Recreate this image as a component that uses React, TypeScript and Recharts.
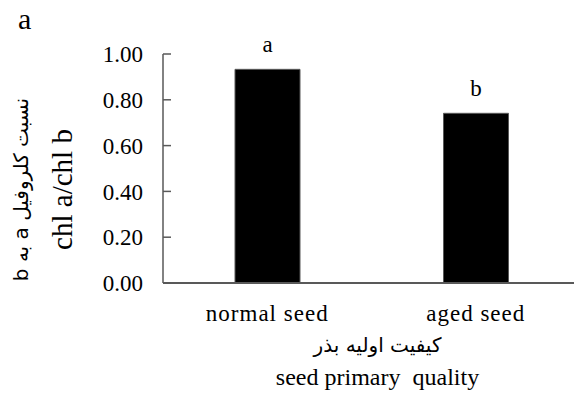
import React from 'react';
import { BarChart, Bar, XAxis, YAxis, LabelList, Label } from 'recharts';

const categories = ['normal seed', 'aged seed'];
const ratioValues = [0.933, 0.741];
const groupLetters = ['a', 'b'];
const yTicks = [0, 0.2, 0.4, 0.6, 0.8, 1.0];
const panelLetter = 'a';
const yTitleFa = 'نسبت کلروفیل a به b';
const yTitleEn = 'chl a/chl b';
const xTitleFa = 'کیفیت اولیه بذر';
const xTitleEn = 'seed primary  quality';

const data = categories.map((name, i) => ({ name, value: ratioValues[i], letter: groupLetters[i] }));

const SERIF = 'Liberation Serif, DejaVu Serif, serif';
const FA = 'DejaVu Sans, sans-serif';
const AXIS = '#595959';

const YTitle = (props: any) => {
  const vb = props.viewBox || { x: 0, y: 54, width: 163, height: 229 };
  const cy = vb.y + vb.height / 2 + 21;
  const enX = vb.x + 72;
  const faX = vb.x + 28;
  return (
    <g>
      <text x={vb.x + 18} y={vb.y - 25} style={{ fontFamily: SERIF }} fontSize={30} fill="#000">{panelLetter}</text>
      <text x={faX} y={cy} transform={`rotate(-90 ${faX} ${cy})`} textAnchor="middle" direction="rtl" style={{ fontFamily: FA }} fontSize={20} fill="#000">{yTitleFa}</text>
      <text x={enX} y={cy} transform={`rotate(-90 ${enX} ${cy})`} textAnchor="middle" style={{ fontFamily: SERIF }} fontSize={29} fill="#000">{yTitleEn}</text>
    </g>
  );
};

const XTitle = (props: any) => {
  const vb = props.viewBox || { x: 163, y: 283, width: 417, height: 117 };
  const cx = vb.x + vb.width / 2 + 6;
  return (
    <g>
      <text x={cx} y={vb.y + 69} textAnchor="middle" direction="rtl" style={{ fontFamily: FA }} fontSize={20} fill="#000">{xTitleFa}</text>
      <text x={cx} y={vb.y + 102} textAnchor="middle" style={{ fontFamily: SERIF, whiteSpace: 'pre' }} fontSize={24} fill="#000">{xTitleEn}</text>
    </g>
  );
};

const BarLetter = (props: any) => {
  const { x, y, width, value } = props;
  return (
    <text x={x + width / 2} y={y - 17} textAnchor="middle" style={{ fontFamily: SERIF }} fontSize={23} fill="#000">{value}</text>
  );
};

export default function App() {
  return (
    <div style={{ position: 'absolute', left: 0, top: 0, width: 574, height: 400, overflow: 'hidden', background: '#fff', fontFamily: SERIF }}>
      <BarChart width={580} height={400} data={data} margin={{ top: 54, right: 0, bottom: 0, left: 0 }} style={{ fontFamily: SERIF }}>
        <XAxis
          dataKey="name"
          height={117}
          axisLine={{ stroke: AXIS, strokeWidth: 2 }}
          tickLine={false}
          tickSize={0}
          tickMargin={22}
          tick={{ style: { fontFamily: SERIF, letterSpacing: 1 }, fontSize: 23, fill: '#000' }}
        >
          <Label content={<XTitle />} position="insideBottom" />
        </XAxis>
        <YAxis
          width={163}
          domain={[0, 1]}
          ticks={yTicks}
          interval={0}
          tickFormatter={(v: number) => v.toFixed(2)}
          axisLine={{ stroke: AXIS, strokeWidth: 1.5 }}
          tickLine={{ stroke: AXIS, strokeWidth: 1.5 }}
          tickSize={-8}
          tickMargin={28}
          tick={{ style: { fontFamily: SERIF }, fontSize: 23, fill: '#000' }}
        >
          <Label content={<YTitle />} position="insideLeft" />
        </YAxis>
        <Bar dataKey="value" fill="#000" stroke={AXIS} strokeWidth={1} barSize={65} isAnimationActive={false}>
          <LabelList dataKey="letter" content={<BarLetter />} />
        </Bar>
      </BarChart>
    </div>
  );
}
